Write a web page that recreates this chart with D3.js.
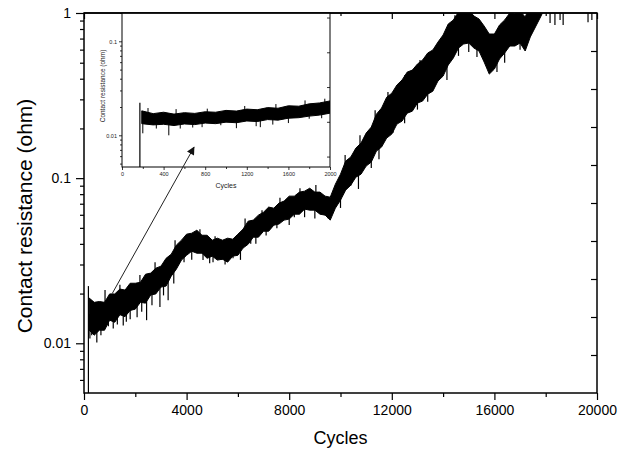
<!DOCTYPE html>
<html>
<head>
<meta charset="utf-8">
<script src="https://cdn.jsdelivr.net/npm/d3@7"></script>
<style>
  body { margin: 0; background: #fff; }
  svg { display: block; font-family: Arial, "Liberation Sans", sans-serif; }
</style>
</head>
<body>
<div id="chart"></div>
<script>
// ---- data ----
// main trace: noisy band, upper and lower edge (ohm) every 200 cycles
var bandCycles = [200, 400, 600, 800, 1000, 1200, 1400, 1600, 1800, 2000,
  2200, 2400, 2600, 2800, 3000, 3200, 3400, 3600, 3800, 4000,
  4200, 4400, 4600, 4800, 5000, 5200, 5400, 5600, 5800, 6000,
  6200, 6400, 6600, 6800, 7000, 7200, 7400, 7600, 7800, 8000,
  8200, 8400, 8600, 8800, 9000, 9200, 9400, 9600, 9800, 10000,
  10200, 10400, 10600, 10800, 11000, 11200, 11400, 11600, 11800, 12000,
  12200, 12400, 12600, 12800, 13000, 13200, 13400, 13600, 13800, 14000,
  14200, 14400, 14600, 14800, 15000, 15200, 15400, 15600, 15800, 16000,
  16200, 16400, 16600, 16800, 17000, 17200, 17400, 17600, 17800, 18000, 19900];
var bandHigh = [0.0188, 0.0177, 0.0179, 0.0177, 0.0199, 0.0199, 0.0213, 0.0210, 0.0231, 0.0231,
  0.0234, 0.0262, 0.0266, 0.0285, 0.0293, 0.0327, 0.0346, 0.0393, 0.0421, 0.0458,
  0.0464, 0.0484, 0.0451, 0.0451, 0.0421, 0.0433, 0.0421, 0.0433, 0.0427, 0.0458,
  0.0491, 0.0549, 0.0557, 0.0597, 0.0622, 0.0668, 0.0658, 0.0706, 0.0726, 0.0778,
  0.0778, 0.0823, 0.0834, 0.0869, 0.0823, 0.0823, 0.0778, 0.0767, 0.0919, 0.1057,
  0.1268, 0.1342, 0.1521, 0.1630, 0.1874, 0.2037, 0.244, 0.2656, 0.309, 0.327,
  0.3665, 0.393, 0.4386, 0.451, 0.4908, 0.519, 0.5725, 0.597, 0.6671, 0.7358,
  0.8578, 0.907, 1.014, 1.058, 1.043, 0.9593, 0.920, 0.834, 0.746, 0.746,
  0.8459, 0.907, 1.0, 0.986, 1.028, 0.946, 1.118, 1.199, 1.379, 1.5, 1.5];
var bandLow = [0.0120, 0.0112, 0.0120, 0.0120, 0.0138, 0.0134, 0.0149, 0.0145, 0.0158, 0.0161,
  0.0177, 0.0175, 0.0196, 0.0199, 0.0219, 0.0222, 0.0255, 0.0281, 0.0319, 0.0341,
  0.0361, 0.0351, 0.0351, 0.0327, 0.0337, 0.0319, 0.0323, 0.0310, 0.0337, 0.0341,
  0.0377, 0.0398, 0.0439, 0.0439, 0.0477, 0.0477, 0.0519, 0.0527, 0.0557, 0.0565,
  0.0605, 0.0605, 0.0649, 0.0640, 0.0640, 0.0605, 0.0597, 0.0557, 0.0658, 0.0736,
  0.0846, 0.0906, 0.1014, 0.1057, 0.1183, 0.1251, 0.1458, 0.1542, 0.1748, 0.1848,
  0.2124, 0.2215, 0.2474, 0.2544, 0.2848, 0.2929, 0.3225, 0.3363, 0.3875, 0.4148,
  0.484, 0.534, 0.6136, 0.6488, 0.6579, 0.6136, 0.5887, 0.5047, 0.4265, 0.4578,
  0.5266, 0.5725, 0.631, 0.631, 0.6579, 0.5887, 0.7157, 0.8227, 0.946, 1.1, 1.1];

// single noise spikes sticking out of the band
var dropCycles = [230, 300, 380, 500, 660, 820, 950, 1140, 1300, 1530, 1650, 1800, 2070, 2250, 2440, 2650, 2960, 3100,
  3280, 3500, 3900, 4200, 4640, 4900, 5030, 5380, 5500, 5810, 6100, 6500, 6700, 7100, 7520, 8000, 8200, 8600,
  9000, 9510, 10000, 10400, 10700, 11200, 11500, 12050, 12500, 13000, 13400, 14150, 14600, 15000, 15320,
  15830, 16100, 16400, 17000, 17190, 18170, 18360, 18560, 18680, 19650, 19800];
var dropRes = [0.0107, 0.0112, 0.0118, 0.0101, 0.0112, 0.0125, 0.0127, 0.0123, 0.0130, 0.0128, 0.0135, 0.0140, 0.0144, 0.0155, 0.0138, 0.0170, 0.0166, 0.0195,
  0.0182, 0.0230, 0.031, 0.032, 0.0319, 0.0305, 0.0310, 0.0319, 0.0300, 0.0327, 0.0320, 0.040, 0.040, 0.045, 0.0497, 0.052, 0.058, 0.058,
  0.057, 0.0571, 0.066, 0.090, 0.086, 0.115, 0.130, 0.188, 0.215, 0.26, 0.290, 0.393, 0.55, 0.58, 0.541,
  0.439, 0.44, 0.50, 0.60, 0.622, 0.87, 0.846, 0.907, 0.846, 0.88, 0.907];
var peakCycles = [820, 1400, 2180, 2770, 3550, 4520, 5110, 6280, 6940, 7640, 8420, 9040, 10180, 10760, 11350, 11850, 12510, 13100, 13680, 14460];
var peakRes = [0.021, 0.0226, 0.0259, 0.031, 0.042, 0.049, 0.0445, 0.057, 0.064, 0.076, 0.087, 0.091, 0.138, 0.182, 0.258, 0.332, 0.421, 0.519, 0.597, 0.97];

// first contact: vertical drop at the start of the test
var startCycle = 172;
var startTop = 0.0222;
var startBottom = 0.004;

// inset (first 2000 cycles)
var insetCycles = [190, 300, 400, 500, 600, 700, 800, 900, 1000, 1100, 1200, 1300, 1400, 1500, 1600, 1700, 1800, 1900, 2000];
var insetHigh = [0.0182, 0.0170, 0.0176, 0.0168, 0.0174, 0.0171, 0.0178, 0.0176, 0.0184, 0.0181, 0.0190, 0.0187, 0.0197, 0.0194, 0.0206, 0.0204, 0.0216, 0.0221, 0.0232];
var insetLow = [0.0133, 0.0129, 0.0131, 0.0127, 0.0132, 0.0130, 0.0135, 0.0133, 0.0138, 0.0136, 0.0142, 0.0140, 0.0147, 0.0145, 0.0152, 0.0154, 0.0160, 0.0164, 0.0172];
var insetDropCycles = [200, 330, 450, 560, 680, 770, 950, 1100, 1290, 1330, 1450, 1600, 1800, 1920];
var insetDropRes = [0.0105, 0.0118, 0.0100, 0.0118, 0.0121, 0.0122, 0.0128, 0.0119, 0.0125, 0.0122, 0.0130, 0.0135, 0.0150, 0.0152];
var insetPeakCycles = [250, 520, 820, 1180, 1480, 1760, 1950];
var insetPeakRes = [0.0195, 0.0190, 0.0192, 0.0205, 0.0215, 0.0235, 0.0245];

// axes
var xTicks = [0, 4000, 8000, 12000, 16000, 20000];
var xMinor = [2000, 6000, 10000, 14000, 18000];
var yTicks = [0.01, 0.1, 1];
var yMinor = [0.006, 0.007, 0.008, 0.009, 0.02, 0.03, 0.04, 0.05, 0.06, 0.07, 0.08, 0.09, 0.2, 0.3, 0.4, 0.5, 0.6, 0.7, 0.8, 0.9];
var insetXTicks = [0, 400, 800, 1200, 1600, 2000];
var insetXMinor = [200, 600, 1000, 1400, 1800];
var insetYTicks = [0.01, 0.1];
var insetYMinor = [0.005, 0.006, 0.007, 0.008, 0.009, 0.02, 0.03, 0.04, 0.05, 0.06, 0.07, 0.08, 0.09, 0.2];

// arrow from the start of the trace to the inset
var arrowFrom = [1100, 0.0200];
var arrowTo = [4290, 0.154];

// ---- layout ----
var W = 627, H = 450;
var margin = {top: 13, right: 30, bottom: 57, left: 84};

var svg = d3.select("#chart").append("svg").attr("width", W).attr("height", H);

var x = d3.scaleLinear().domain([0, 20000]).range([margin.left, W - margin.right]);
var y = d3.scaleLog().domain([0.005, 1]).range([H - margin.bottom, margin.top]);
// right axis of the origin plot carries plain linear ticks
var yRight = d3.scaleLinear().domain([0, 10]).range([H - margin.bottom, margin.top]);

var defs = svg.append("defs");
defs.append("clipPath").attr("id", "mainClip").append("rect")
  .attr("x", x(0)).attr("y", y(1))
  .attr("width", x(20000) - x(0)).attr("height", y(0.005) - y(1));
defs.append("marker").attr("id", "head")
  .attr("viewBox", "0 0 10 10").attr("refX", 9).attr("refY", 5)
  .attr("markerWidth", 9).attr("markerHeight", 8).attr("markerUnits", "userSpaceOnUse")
  .attr("orient", "auto")
  .append("path").attr("d", "M0,0 L10,5 L0,10 Z").attr("fill", "#111");

// nearest band centre, used as root for the spikes
function bandMid(cs, hi, lo, c) {
  var i = d3.bisectLeft(cs, c);
  if (i >= cs.length) i = cs.length - 1;
  if (i > 0 && Math.abs(cs[i - 1] - c) < Math.abs(cs[i] - c)) i = i - 1;
  return Math.sqrt(hi[i] * lo[i]);
}

function drawTrace(g, xs, ys, cs, hi, lo, dc, dr, pc, pr, sw) {
  var band = cs.map(function(c, i) { return {c: c, hi: hi[i], lo: lo[i]}; });
  var area = d3.area()
    .x(function(d) { return xs(d.c); })
    .y0(function(d) { return ys(d.lo); })
    .y1(function(d) { return ys(d.hi); });
  g.append("path").datum(band).attr("d", area)
    .attr("fill", "#000").attr("stroke", "#000").attr("stroke-width", 1).attr("stroke-linejoin", "miter");
  var spikes = dc.map(function(c, i) { return {c: c, v: dr[i]}; })
    .concat(pc.map(function(c, i) { return {c: c, v: pr[i]}; }));
  g.selectAll(".spike").data(spikes).enter().append("line")
    .attr("class", "spike")
    .attr("x1", function(d) { return xs(d.c); })
    .attr("x2", function(d) { return xs(d.c); })
    .attr("y1", function(d) { return ys(bandMid(cs, hi, lo, d.c)); })
    .attr("y2", function(d) { return ys(d.v); })
    .attr("stroke", "#000").attr("stroke-width", sw);
  // start drop
  g.append("line")
    .attr("x1", xs(startCycle)).attr("x2", xs(startCycle))
    .attr("y1", ys(startTop)).attr("y2", ys(startBottom))
    .attr("stroke", "#000").attr("stroke-width", 1.2);
}

// ---- main plot ----
var main = svg.append("g").attr("clip-path", "url(#mainClip)");
drawTrace(main, x, y, bandCycles, bandHigh, bandLow, dropCycles, dropRes, peakCycles, peakRes, 1.2);

function noDomain(g) { g.select(".domain").remove(); }

// bottom axis
svg.append("g").attr("transform", "translate(0," + y(0.005) + ")")
  .call(d3.axisBottom(x).tickValues(xTicks).tickSize(7).tickPadding(5).tickFormat(d3.format("d")))
  .call(noDomain)
  .call(function(g) { g.selectAll("text").attr("font-size", 14).attr("font-family", "Arial"); });
svg.append("g").attr("transform", "translate(0," + y(0.005) + ")")
  .call(d3.axisBottom(x).tickValues(xMinor).tickSize(4).tickFormat(""))
  .call(noDomain);
// top axis, ticks pointing in
svg.append("g").attr("transform", "translate(0," + y(1) + ")")
  .call(d3.axisTop(x).tickValues(xTicks).tickSize(-6).tickFormat(""))
  .call(noDomain);
svg.append("g").attr("transform", "translate(0," + y(1) + ")")
  .call(d3.axisTop(x).tickValues(xMinor).tickSize(-3).tickFormat(""))
  .call(noDomain);
// left axis
svg.append("g").attr("transform", "translate(" + x(0) + ",0)")
  .call(d3.axisLeft(y).tickValues(yTicks).tickSize(8).tickPadding(5).tickFormat(function(d) { return String(d); }))
  .call(noDomain)
  .call(function(g) { g.selectAll("text").attr("font-size", 14).attr("font-family", "Arial"); });
svg.append("g").attr("transform", "translate(" + x(0) + ",0)")
  .call(d3.axisLeft(y).tickValues(yMinor).tickSize(4).tickFormat(""))
  .call(noDomain);
// right axis, ticks pointing in
svg.append("g").attr("transform", "translate(" + x(20000) + ",0)")
  .call(d3.axisRight(yRight).tickValues(d3.range(1, 10)).tickSize(-6).tickFormat(""))
  .call(noDomain);

svg.append("rect")
  .attr("x", x(0)).attr("y", y(1))
  .attr("width", x(20000) - x(0)).attr("height", y(0.005) - y(1))
  .attr("fill", "none").attr("stroke", "#000").attr("stroke-width", 1.5);

svg.selectAll(".tick line").attr("stroke", "#000").attr("stroke-width", 1.2);

// axis titles
svg.append("text")
  .attr("x", (x(0) + x(20000)) / 2).attr("y", 444)
  .attr("text-anchor", "middle").attr("font-size", 18).attr("font-family", "Arial")
  .text("Cycles");
svg.append("text")
  .attr("transform", "translate(32," + 216 + ") rotate(-90)")
  .attr("text-anchor", "middle").attr("font-size", 21).attr("font-family", "Arial")
  .text("Contact resistance (ohm)");

// ---- inset ----
var ix = d3.scaleLinear().domain([0, 2000]).range([122, 330]);
var iy = d3.scaleLog().domain([0.0046, 0.2]).range([167, 13]);
var iyRight = d3.scaleLinear().domain([-0.3, 4.13]).range([167, 13]);

defs.append("clipPath").attr("id", "insetClip").append("rect")
  .attr("x", ix(0)).attr("y", iy(0.2))
  .attr("width", ix(2000) - ix(0)).attr("height", iy(0.0046) - iy(0.2));

var inset = svg.append("g");
inset.append("rect")
  .attr("x", ix(0)).attr("y", iy(0.2))
  .attr("width", ix(2000) - ix(0)).attr("height", iy(0.0046) - iy(0.2))
  .attr("fill", "#fff");
var insetData = inset.append("g").attr("clip-path", "url(#insetClip)");
drawTrace(insetData, ix, iy, insetCycles, insetHigh, insetLow, insetDropCycles, insetDropRes, insetPeakCycles, insetPeakRes, 1);

inset.append("g").attr("transform", "translate(0," + iy(0.0046) + ")")
  .call(d3.axisBottom(ix).tickValues(insetXTicks).tickSize(3).tickPadding(2).tickFormat(d3.format("d")))
  .call(noDomain)
  .call(function(g) { g.selectAll("text").attr("font-size", 5.5).attr("font-family", "Arial").attr("fill", "#222"); });
inset.append("g").attr("transform", "translate(0," + iy(0.0046) + ")")
  .call(d3.axisBottom(ix).tickValues(insetXMinor).tickSize(2).tickFormat(""))
  .call(noDomain);
inset.append("g").attr("transform", "translate(" + ix(0) + ",0)")
  .call(d3.axisLeft(iy).tickValues(insetYTicks).tickSize(3).tickPadding(2).tickFormat(function(d) { return String(d); }))
  .call(noDomain)
  .call(function(g) { g.selectAll("text").attr("font-size", 5.5).attr("font-family", "Arial").attr("fill", "#222"); });
inset.append("g").attr("transform", "translate(" + ix(0) + ",0)")
  .call(d3.axisLeft(iy).tickValues(insetYMinor).tickSize(2).tickFormat(""))
  .call(noDomain);
inset.append("g").attr("transform", "translate(" + ix(2000) + ",0)")
  .call(d3.axisRight(iyRight).tickValues([0, 1, 2, 3, 4]).tickSize(-3).tickFormat(""))
  .call(noDomain);
inset.selectAll(".tick line").attr("stroke", "#000").attr("stroke-width", 0.8);

inset.append("rect")
  .attr("x", ix(0)).attr("y", iy(0.2))
  .attr("width", ix(2000) - ix(0)).attr("height", iy(0.0046) - iy(0.2))
  .attr("fill", "none").attr("stroke", "#000").attr("stroke-width", 1);

inset.append("text")
  .attr("x", (ix(0) + ix(2000)) / 2).attr("y", 188)
  .attr("text-anchor", "middle").attr("font-size", 7).attr("font-family", "Arial").attr("fill", "#222")
  .text("Cycles");
inset.append("text")
  .attr("transform", "translate(105,86) rotate(-90)")
  .attr("text-anchor", "middle").attr("font-size", 6.5).attr("font-family", "Arial").attr("fill", "#222")
  .text("Contact resistance (ohm)");

// redraw main top border over the inset
svg.append("line")
  .attr("x1", x(0)).attr("x2", x(20000)).attr("y1", y(1)).attr("y2", y(1))
  .attr("stroke", "#000").attr("stroke-width", 1.5);

// arrow
svg.append("line")
  .attr("x1", x(arrowFrom[0])).attr("y1", y(arrowFrom[1]))
  .attr("x2", x(arrowTo[0])).attr("y2", y(arrowTo[1]))
  .attr("stroke", "#222").attr("stroke-width", 1)
  .attr("marker-end", "url(#head)");
</script>
</body>
</html>
